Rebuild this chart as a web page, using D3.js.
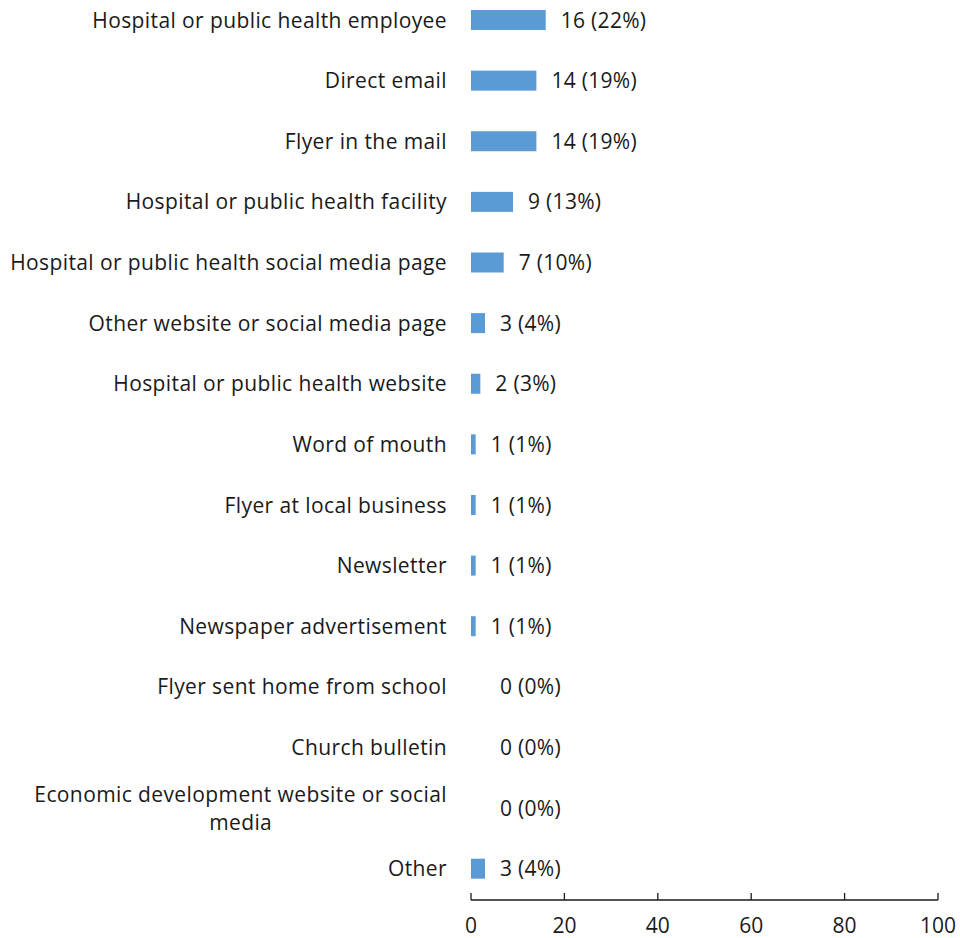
<!DOCTYPE html>
<html>
<head>
<meta charset="utf-8">
<script src="https://cdn.jsdelivr.net/npm/d3@7"></script>
<style>
  html, body { margin: 0; padding: 0; background: #fff; }
  svg { display: block; }
  text { font-family: "Open Sans", "Liberation Sans", sans-serif; fill: #1a1a1a; }
</style>
</head>
<body>
<svg id="chart" width="960" height="938"></svg>
<script>
// How respondents heard about the survey
const categories = [
  "Hospital or public health employee",
  "Direct email",
  "Flyer in the mail",
  "Hospital or public health facility",
  "Hospital or public health social media page",
  "Other website or social media page",
  "Hospital or public health website",
  "Word of mouth",
  "Flyer at local business",
  "Newsletter",
  "Newspaper advertisement",
  "Flyer sent home from school",
  "Church bulletin",
  "Economic development website or social media",
  "Other"
];
const counts = [16, 14, 14, 9, 7, 3, 2, 1, 1, 1, 1, 0, 0, 0, 3];
const percents = [22, 19, 19, 13, 10, 4, 3, 1, 1, 1, 1, 0, 0, 0, 4];
const xTicks = [0, 20, 40, 60, 80, 100];

const svg = d3.select("#chart");
const x0 = 471, x1 = 938;
const axisY = 900;
const fs = 21;

const x = d3.scaleLinear().domain([0, 100]).range([x0, x1]);
const y = d3.scaleBand().domain(categories).range([-10.3, 899]).paddingInner(0.67).paddingOuter(0.335);

// Bars
svg.append("g").selectAll("rect")
  .data(categories)
  .join("rect")
  .attr("x", x(0))
  .attr("y", d => y(d))
  .attr("width", (d, i) => x(counts[i]) - x(0))
  .attr("height", y.bandwidth())
  .attr("fill", "#5B9BD5");

// Value labels
svg.append("g").selectAll("text")
  .data(categories)
  .join("text")
  .attr("x", (d, i) => x(counts[i]) + (counts[i] > 0 ? 15 : 29))
  .attr("y", d => y(d) + y.bandwidth() / 2)
  .attr("dy", "0.36em")
  .attr("font-size", fs)
  .attr("letter-spacing", 0.3)
  .text((d, i) => `${counts[i]} (${percents[i]}%)`);

// Category labels, wrapped when too long and centred as a block
const labelRight = 447;
const maxLabelWidth = 445;
const labels = svg.append("g");
const styleText = sel => sel.attr("font-size", fs).attr("letter-spacing", 0.4);
categories.forEach(cat => {
  const cy = y(cat) + y.bandwidth() / 2;
  const t = labels.append("text").call(styleText).attr("text-anchor", "end")
    .attr("x", labelRight).attr("y", cy).attr("dy", "0.36em").text(cat);
  if (t.node().getComputedTextLength() > maxLabelWidth) {
    t.remove();
    const words = cat.split(" ");
    const lines = [];
    let line = [];
    const probe = labels.append("text").call(styleText);
    words.forEach(w => {
      const trial = line.concat(w).join(" ");
      probe.text(trial);
      if (probe.node().getComputedTextLength() > maxLabelWidth && line.length) {
        lines.push(line.join(" "));
        line = [w];
      } else {
        line.push(w);
      }
    });
    lines.push(line.join(" "));
    let widest = 0;
    lines.forEach(l => { probe.text(l); widest = Math.max(widest, probe.node().getComputedTextLength()); });
    probe.remove();
    const lh = 28;
    const cx = labelRight - widest / 2;
    lines.forEach((l, k) => {
      labels.append("text").call(styleText).attr("text-anchor", "middle")
        .attr("x", cx).attr("y", cy + (k - (lines.length - 1) / 2) * lh).attr("dy", "0.36em").text(l);
    });
  }
});

// X axis with ticks pointing upward
const axis = svg.append("g").attr("transform", `translate(0,${axisY})`);
axis.append("line").attr("x1", x(0)).attr("x2", x(100)).attr("y1", 0).attr("y2", 0)
  .attr("stroke", "#1a1a1a").attr("stroke-width", 1.3);
axis.selectAll("line.tick").data(xTicks).join("line").attr("class", "tick")
  .attr("x1", d => x(d)).attr("x2", d => x(d)).attr("y1", 0).attr("y2", -7)
  .attr("stroke", "#1a1a1a").attr("stroke-width", 1.3);
axis.selectAll("text").data(xTicks).join("text")
  .attr("x", d => x(d)).attr("y", 25).attr("dy", "0.36em")
  .attr("text-anchor", "middle").attr("font-size", fs)
  .text(d => d);
</script>
</body>
</html>
